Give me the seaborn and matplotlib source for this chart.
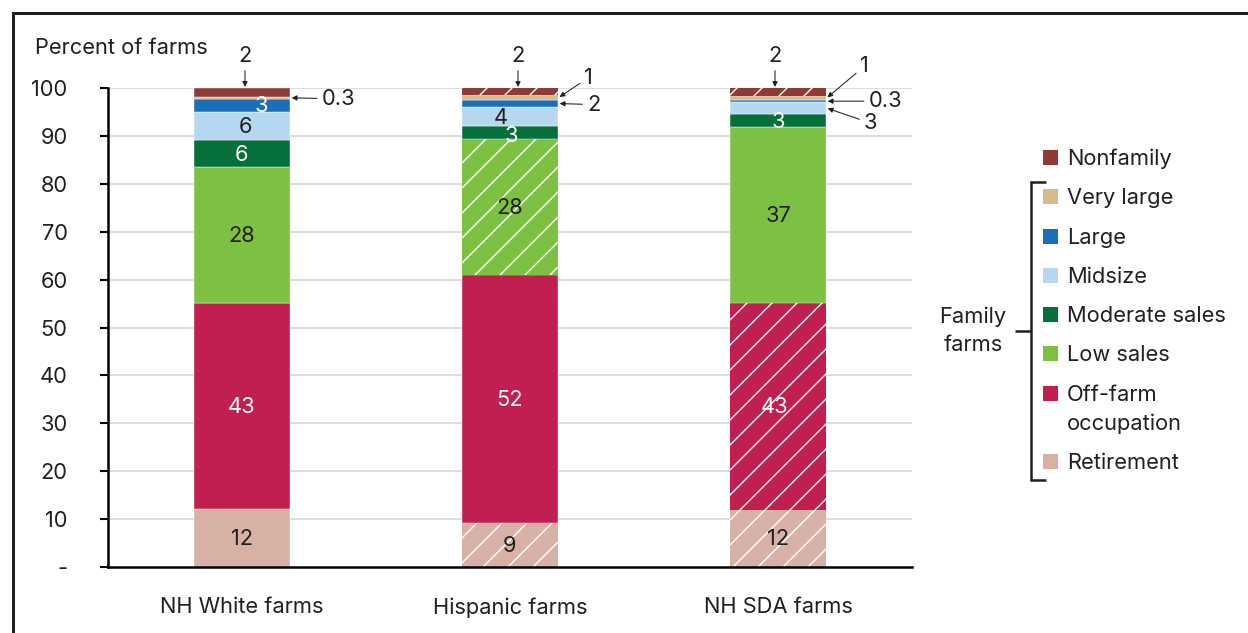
import numpy as np
import matplotlib
matplotlib.use("Agg")
import matplotlib.pyplot as plt
from matplotlib.patches import Rectangle
from matplotlib.lines import Line2D
import seaborn as sns

# ---- data -------------------------------------------------------------
farm_types = ["NH White farms", "Hispanic farms", "NH SDA farms"]
segments = ["Retirement", "Off-farm occupation", "Low sales", "Moderate sales",
            "Midsize", "Large", "Very large", "Nonfamily"]

retirement = [12.1, 9.2, 12.0]
off_farm = [43.0, 51.8, 43.2]
low_sales = [28.4, 28.4, 36.6]
moderate_sales = [5.6, 2.7, 2.7]
midsize = [5.8, 3.9, 2.6]
large = [2.9, 1.5, 0.3]
very_large = [0.3, 1.0, 1.0]
nonfamily = [1.9, 1.5, 1.6]

y_ticks = [0, 10, 20, 30, 40, 50, 60, 70, 80, 90, 100]
y_tick_labels = ["-", "10", "20", "30", "40", "50", "60", "70", "80", "90", "100"]

series = [retirement, off_farm, low_sales, moderate_sales,
          midsize, large, very_large, nonfamily]

# ---- styling ----------------------------------------------------------
colors = {
    "Retirement": "#d8b1a6",
    "Off-farm occupation": "#c21f51",
    "Low sales": "#7dc142",
    "Moderate sales": "#06703a",
    "Midsize": "#b5d8f0",
    "Large": "#1a6fba",
    "Very large": "#d8ba8e",
    "Nonfamily": "#8e3a35",
}
DARK = "#231f20"
label_color = {
    "Retirement": DARK, "Off-farm occupation": "white", "Low sales": DARK,
    "Moderate sales": "white", "Midsize": DARK, "Large": "white",
}
hatched = {
    ("Hispanic farms", "Retirement"), ("Hispanic farms", "Low sales"),
    ("Hispanic farms", "Nonfamily"),
    ("NH SDA farms", "Retirement"), ("NH SDA farms", "Off-farm occupation"),
    ("NH SDA farms", "Nonfamily"),
}
inside_labels = {
    "NH White farms": ["Retirement", "Off-farm occupation", "Low sales",
                       "Moderate sales", "Midsize", "Large"],
    "Hispanic farms": ["Retirement", "Off-farm occupation", "Low sales",
                       "Moderate sales", "Midsize"],
    "NH SDA farms": ["Retirement", "Off-farm occupation", "Low sales",
                     "Moderate sales"],
}
# small pixel nudges for crowded labels
inside_nudge = {
    ("NH White farms", "Large"): (19, 0),
    ("NH White farms", "Midsize"): (3, 0),
    ("Hispanic farms", "Midsize"): (-9, 0),
    ("Hispanic farms", "Moderate sales"): (1, -3),
    ("NH SDA farms", "Off-farm occupation"): (-3, 0),
}
# side callouts: (farm, segment, dx px, dy px, ha)
callouts = [
    ("NH White farms", "Very large", 31, 0, "left"),
    ("Hispanic farms", "Very large", 30, 21, "center"),
    ("Hispanic farms", "Large", 35, 0, "center"),
    ("NH SDA farms", "Very large", 38, 33, "center"),
    ("NH SDA farms", "Large", 42, 1, "left"),
    ("NH SDA farms", "Midsize", 44, -14, "center"),
]
top_nudge = {"NH White farms": 3, "Hispanic farms": 8, "NH SDA farms": -3}


def fmt(v):
    return f"{v:.1f}" if v < 1 else f"{v:.0f}"


W, H, DPI = 1248, 633, 75
FS = 21

sns.set_theme(style="white")
plt.rcParams["font.family"] = ["Inter", "DejaVu Sans"]
plt.rcParams["hatch.linewidth"] = 1.3
plt.rcParams["text.color"] = DARK

fig = plt.figure(figsize=(W / DPI, H / DPI), dpi=DPI)
fig.patch.set_facecolor("white")


def fx(px):
    return px / W


def fy(py):
    return 1 - py / H


ax = fig.add_axes([fx(108), fy(567), fx(912) - fx(108), fy(88) - fy(567)])
ax.set_axisbelow(True)

bar_w = 0.355
bottom = np.zeros(len(farm_types))
starts = {}
for name, vals in zip(segments, series):
    vals = np.asarray(vals, dtype=float)
    sns.barplot(x=farm_types, y=vals, bottom=bottom, order=farm_types,
                color=colors[name], saturation=1, width=bar_w,
                edgecolor="white", linewidth=0.4, ax=ax, zorder=2)
    starts[name] = bottom.copy()
    bottom = bottom + vals

for si, name in enumerate(segments):
    cont = ax.containers[si]
    for fi, farm in enumerate(farm_types):
        if (farm, name) in hatched:
            p = cont.patches[fi]
            p.set_hatch("/")
            p.set_edgecolor("white")
            p.set_linewidth(0)

ax.set_xlim(-0.5, 2.5)
ax.set_ylim(0, 100)
ax.set_yticks(y_ticks)
ax.set_yticklabels(y_tick_labels)
ax.set_xlabel("")
ax.set_ylabel("")
for v in y_ticks[1:]:
    ax.axhline(v, color="#d4d4d4", lw=1.5, zorder=0)
for s in ["top", "right"]:
    ax.spines[s].set_visible(False)
for s in ["left", "bottom"]:
    ax.spines[s].set_color("black")
    ax.spines[s].set_linewidth(2.4)
ax.tick_params(axis="y", direction="out", length=7.7, width=2, color="black",
               pad=31, labelsize=FS, labelcolor=DARK, left=True)
ax.tick_params(axis="x", length=0, pad=29, labelsize=FS, labelcolor=DARK)

seg_data = dict(zip(segments, series))

# values inside the bars
for fi, farm in enumerate(farm_types):
    for name in inside_labels[farm]:
        v = seg_data[name][fi]
        mid = starts[name][fi] + v / 2
        dx, dy = inside_nudge.get((farm, name), (0, 0))
        ax.annotate(fmt(v), xy=(fi, mid), xytext=(dx, dy - 1),
                    textcoords="offset pixels", ha="center", va="center",
                    fontsize=FS, color=label_color[name], zorder=5)

arrow = dict(arrowstyle="-|>", color=DARK, lw=1.0, mutation_scale=10,
             shrinkA=2, shrinkB=1)

# nonfamily values above the bars
for fi, farm in enumerate(farm_types):
    v = nonfamily[fi]
    top = starts["Nonfamily"][fi] + v
    xo = top_nudge[farm] / 268
    ax.annotate(fmt(v), xy=(fi + xo, top), xytext=(0, 32),
                textcoords="offset pixels", ha="center", va="center",
                fontsize=FS, color=DARK, arrowprops=arrow,
                annotation_clip=False)

# thin segments labelled at the side
for farm, name, dx, dy, ha in callouts:
    fi = farm_types.index(farm)
    v = seg_data[name][fi]
    mid = starts[name][fi] + v / 2
    ax.annotate(fmt(v), xy=(fi + bar_w / 2 + 0.004, mid), xytext=(dx, dy - 1),
                textcoords="offset pixels", ha=ha, va="center",
                fontsize=FS, color=DARK, arrowprops=arrow,
                annotation_clip=False)

fig.text(fx(35), fy(48), "Percent of farms", fontsize=FS, ha="left",
         va="center", color=DARK)

# ---- legend -------------------------------------------------------------
legend_rows = [("Nonfamily", [157]), ("Very large", [196]), ("Large", [236]),
               ("Midsize", [275]), ("Moderate sales", [314]),
               ("Low sales", [353]), ("Off-farm occupation", [393, 422]),
               ("Retirement", [461])]
for name, ys in legend_rows:
    fig.add_artist(Rectangle((fx(1043), fy(ys[0] + 7.5)), 15 / W, 15 / H,
                             transform=fig.transFigure,
                             facecolor=colors[name], edgecolor="none"))
    lines = name.split(" ", 1) if name == "Off-farm occupation" else [name]
    for line, yy in zip(lines, ys):
        fig.text(fx(1067), fy(yy + 2), line, fontsize=FS, ha="left",
                 va="center", color=DARK)

bk = dict(color=DARK, lw=2.4, solid_capstyle="butt", solid_joinstyle="miter",
          transform=fig.transFigure)
fig.add_artist(Line2D([fx(1046), fx(1031), fx(1031), fx(1046)],
                      [fy(182), fy(182), fy(480), fy(480)], **bk))
fig.add_artist(Line2D([fx(1015), fx(1031)], [fy(331), fy(331)], **bk))
fig.text(fx(973), fy(317), "Family", fontsize=FS, ha="center", va="center")
fig.text(fx(973), fy(345), "farms", fontsize=FS, ha="center", va="center")

# frame
fig.add_artist(Line2D([fx(12.5), fx(12.5), fx(1248)], [fy(633), fy(13), fy(13)],
                      color=DARK, lw=2.9, solid_joinstyle="miter",
                      transform=fig.transFigure))

fig.savefig("out.png", dpi=DPI, facecolor="white")
